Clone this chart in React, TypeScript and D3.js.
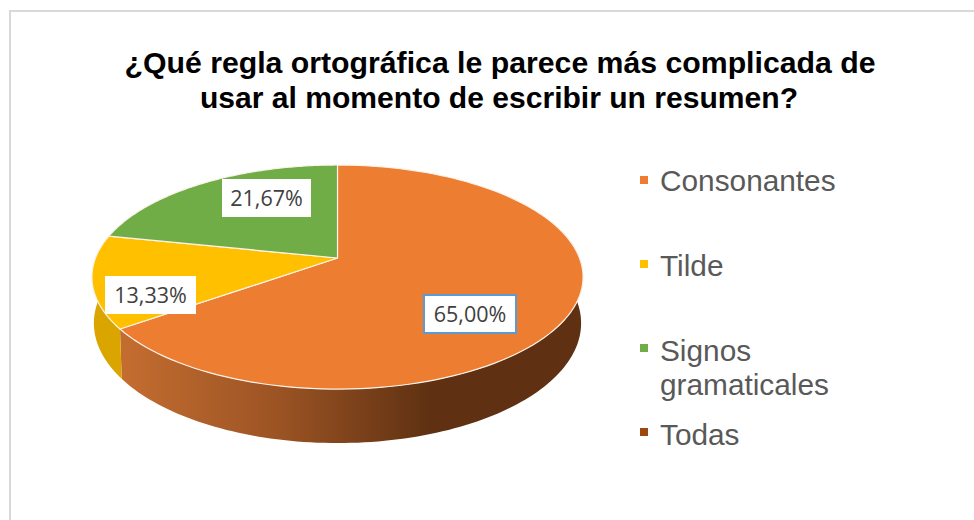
import React from "react";
import * as d3 from "d3";

const categories = ["Consonantes", "Tilde", "Signos gramaticales", "Todas"];
const values = [65.0, 13.33, 21.67, 0];
const valueLabels = ["65,00%", "13,33%", "21,67%", ""];
const colors = ["#ed7d31", "#ffc000", "#70ad47", "#9e480e"];
const legendLines = [["Consonantes"], ["Tilde"], ["Signos", "gramaticales"], ["Todas"]];

const W = 974, H = 520;
const apex = { x: 337.5, y: 258 };
const RX = 242, RY = 108.8, K = 0.17, DEPTH = 44.8, BOTTOM_SCALE = 0.992;

// perspective projection of the unit circle on to the tilted pie plane
function project(a: number, drop = 0) {
  const u = Math.sin(a), v = Math.cos(a);
  const d = 1 + K * v;
  const sx = drop ? BOTTOM_SCALE : 1;
  return [apex.x + (RX * sx * u) / d, apex.y - (RY * v) / d + (drop * DEPTH) / d] as [number, number];
}
const arcPoints = (a0: number, a1: number, drop = 0) =>
  d3.range(0, 121).map((i) => project(a0 + ((a1 - a0) * i) / 120, drop));
const line = d3.line();

const slices = d3.pie<number>().sort(null).value((d) => d)(values);

const labelBoxes = [
  { x: 424, y: 295, w: 92, h: 38, border: "#5b9bd5" },
  { x: 105, y: 276, w: 91, h: 38, border: "none" },
  { x: 222, y: 179, w: 89, h: 38, border: "none" },
];
const legendY = [180, 264, 348, 432];
const legendBaseline = [191, 276, 361, 445];
const sideFill = ["url(#sideOrange)", "#dba500", "#5f8f3c", "#9e480e"];

export default function App() {
  const font = "'Liberation Sans', Arial, sans-serif";
  return (
    <svg width={W} height={H} viewBox={`0 0 ${W} ${H}`} style={{ position: "absolute", left: 0, top: 0, background: "#fff" }}>
      <defs>
        <linearGradient id="sideOrange" gradientUnits="userSpaceOnUse" x1={121} x2={430} y1={0} y2={0}>
          <stop offset="0" stopColor="#c46d30" />
          <stop offset="0.5" stopColor="#9c5424" />
          <stop offset="1" stopColor="#5f3112" />
        </linearGradient>
      </defs>
      <path d={`M975 11 H10 V521`} fill="none" stroke="#d9d9d9" strokeWidth={2} />
      <g fontFamily={font} fontWeight={700} fontSize={30} fill="#000" textAnchor="middle">
        <text x={500} y={73} textLength={751} lengthAdjust="spacingAndGlyphs">¿Qué regla ortográfica le parece más complicada de</text>
        <text x={499} y={107.5} textLength={598} lengthAdjust="spacingAndGlyphs">usar al momento de escribir un resumen?</text>
      </g>
      {slices.map((s, i) => {
        if (s.endAngle === s.startAngle) return null;
        const a0 = Math.max(s.startAngle, Math.PI * 0.4);
        const a1 = Math.min(s.endAngle, Math.PI * 1.6);
        if (a1 <= a0) return null;
        const pts = [...arcPoints(a0, a1), ...arcPoints(a0, a1, 1).reverse()];
        return <path key={i} d={line(pts) + "Z"} fill={sideFill[i]} />;
      })}
      {slices.map((s, i) => {
        if (s.endAngle === s.startAngle) return null;
        const pts: [number, number][] = [[apex.x, apex.y], ...arcPoints(s.startAngle, s.endAngle)];
        return <path key={i} d={line(pts) + "Z"} fill={colors[i]} stroke="#fbf3ea" strokeWidth={1.2} strokeLinejoin="round" />;
      })}
      {labelBoxes.map((b, i) => (
        <g key={i}>
          <rect x={b.x} y={b.y} width={b.w} height={b.h} fill="#fff" stroke={b.border} strokeWidth={b.border === "none" ? 0 : 2} />
          <text x={b.x + b.w / 2} y={b.y + 27} textAnchor="middle" fontFamily="'Open Sans', sans-serif" fontSize={21.5} fill="#404040">
            {valueLabels[i]}
          </text>
        </g>
      ))}
      {categories.map((c, i) => (
        <g key={c}>
          <rect x={640} y={legendY[i] - 4} width={8} height={8} fill={colors[i]} />
          <text fontFamily={font} fontSize={29.8} fill="#595959">
            {legendLines[i].map((t, j) => (
              <tspan key={t} x={660} y={legendBaseline[i] + j * 33.5}>{t}</tspan>
            ))}
          </text>
        </g>
      ))}
    </svg>
  );
}
